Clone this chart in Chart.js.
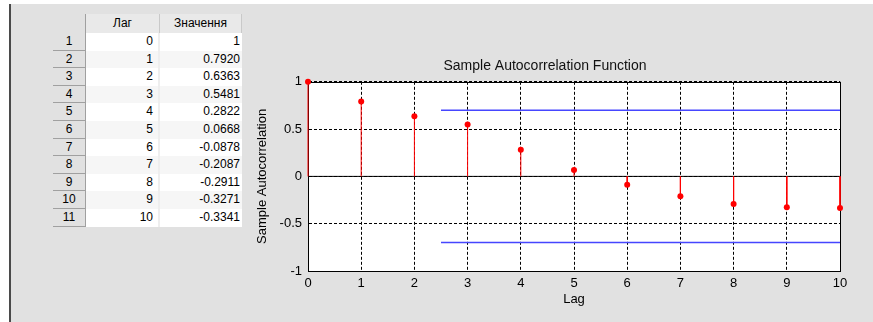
<!DOCTYPE html>
<html>
<head>
<meta charset="utf-8">
<script src="https://cdn.jsdelivr.net/npm/chart.js@4.4.1/dist/chart.umd.min.js"></script>
<style>
  html, body { margin: 0; padding: 0; }
  body {
    width: 873px; height: 322px; position: relative; overflow: hidden;
    background: #ffffff;
    font-family: "Liberation Sans", Arial, sans-serif;
  }
  #panel { position: absolute; left: 11px; top: 4px; right: 0; bottom: 0; background: #e1e1e1; }
  #edge { position: absolute; left: 9px; top: 4px; width: 2px; bottom: 0; background: #4a4a4a; }
  #acfTable { position: absolute; left: 53px; top: 14px; width: 189px; height: 214px; }
  .cell {
    position: absolute; box-sizing: border-box; font-size: 12px; color: #000;
    white-space: nowrap; overflow: hidden;
  }
  .head { background: #e9e9e9; border-right: 1px solid #c9c9c9; text-align: center; line-height: 19px; }
  .rowhead { background: #e1e1e1; border-right: 1px solid #a0a0a0; border-bottom: 1px solid #a0a0a0; text-align: center; }
  .data { text-align: right; border-right: 2px solid #eeeeee; }
  #chartBox { position: absolute; left: 250px; top: 50px; width: 610px; height: 262px; }
</style>
</head>
<body>
<div id="panel"></div>
<div id="edge"></div>
<div id="acfTable"></div>
<div id="chartBox"><canvas id="acfChart" width="610" height="262"></canvas></div>

<script>
// ACF values (MATLAB autocorr output)
const lags = [0, 1, 2, 3, 4, 5, 6, 7, 8, 9, 10];
const acfValues = [1, 0.7920, 0.6363, 0.5481, 0.2822, 0.0668, -0.0878, -0.2087, -0.2911, -0.3271, -0.3341];
const tableHeaders = ['Лаг', 'Значення'];

// confidence bounds (horizontal blue lines)
const boundLags = [2.5, 10];
const boundValue = 0.7;

const yTicks = [-1, -0.5, 0, 0.5, 1];

// ---- table on the left ----
function buildTable() {
  const box = document.getElementById('acfTable');
  const rowH = 17.6;
  const headH = 19;
  const cols = [{ x: 0, w: 33 }, { x: 33, w: 74 }, { x: 107, w: 82 }];
  let html = '';

  html += `<div class="cell" style="left:0;top:0;width:33px;height:${headH}px;border-right:1px solid #a0a0a0;background:#e1e1e1"></div>`;
  tableHeaders.forEach((h, i) => {
    const c = cols[i + 1];
    html += `<div class="cell head" style="left:${c.x}px;top:0;width:${c.w}px;height:${headH}px">${h}</div>`;
  });

  lags.forEach((lag, i) => {
    const top = headH + i * rowH;
    const bg = i % 2 === 1 ? '#f6f6f6' : '#ffffff';
    const val = acfValues[i] === 1 ? '1' : acfValues[i].toFixed(4);
    const lh = `height:${rowH}px;line-height:${rowH}px`;
    html += `<div class="cell rowhead" style="left:0;top:${top}px;width:33px;${lh}">${i + 1}</div>`;
    html += `<div class="cell data" style="left:${cols[1].x}px;top:${top}px;width:${cols[1].w}px;${lh};background:${bg};padding-right:5px">${lag}</div>`;
    html += `<div class="cell data" style="left:${cols[2].x}px;top:${top}px;width:${cols[2].w}px;${lh};background:${bg};padding-right:2px;border-right:none">${val}</div>`;
  });

  box.innerHTML = html;
}
buildTable();

// ---- stem plot ----
const markerPoints = lags.map((lag, i) => ({ x: lag, y: acfValues[i] }));

// each stem goes from 0 to the value, null breaks the line between stems
const stemPoints = [];
lags.forEach((lag, i) => {
  stemPoints.push({ x: lag, y: 0 }, { x: lag, y: acfValues[i] }, { x: lag, y: null });
});

const baseline = [{ x: lags[0], y: 0 }, { x: lags[lags.length - 1], y: 0 }];
const upperBound = boundLags.map(x => ({ x, y: boundValue }));
const lowerBound = boundLags.map(x => ({ x, y: -boundValue }));

// white plot background + closed axes box
const axesBox = {
  id: 'axesBox',
  beforeDraw(chart) {
    const { ctx, chartArea: a } = chart;
    ctx.save();
    ctx.fillStyle = '#ffffff';
    ctx.fillRect(a.left, a.top, a.right - a.left, a.bottom - a.top);
    ctx.restore();
  },
  beforeDatasetsDraw(chart) {
    const { ctx, chartArea: a } = chart;
    ctx.save();
    ctx.strokeStyle = '#000000';
    ctx.lineWidth = 1;
    ctx.strokeRect(Math.round(a.left) + 0.5, Math.round(a.top) + 0.5,
      Math.round(a.right - a.left), Math.round(a.bottom - a.top));
    ctx.restore();
  }
};

const tickFont = { family: '"Liberation Sans", Arial, sans-serif', size: 13 };

new Chart(document.getElementById('acfChart'), {
  type: 'scatter',
  data: {
    datasets: [
      {
        label: 'acf',
        data: markerPoints,
        showLine: false,
        pointRadius: 3,
        pointBorderWidth: 0,
        pointBackgroundColor: '#ff0000',
        clip: false,
        order: 0
      },
      {
        type: 'line',
        label: 'stems',
        data: stemPoints,
        borderColor: '#ff0000',
        borderWidth: 1,
        pointRadius: 0,
        spanGaps: false,
        clip: false,
        order: 1
      },
      {
        type: 'line',
        label: 'baseline',
        data: baseline,
        borderColor: '#000000',
        borderWidth: 1,
        pointRadius: 0,
        order: 2
      },
      {
        type: 'line',
        label: 'upper',
        data: upperBound,
        borderColor: '#4646ff',
        borderWidth: 1.5,
        pointRadius: 0,
        order: 3
      },
      {
        type: 'line',
        label: 'lower',
        data: lowerBound,
        borderColor: '#4646ff',
        borderWidth: 1.5,
        pointRadius: 0,
        order: 3
      }
    ]
  },
  options: {
    responsive: false,
    animation: false,
    layout: { padding: { top: 0, right: 20, bottom: 4, left: 0 } },
    plugins: {
      legend: { display: false },
      tooltip: { enabled: false },
      title: {
        display: true,
        text: 'Sample Autocorrelation Function',
        color: '#111111',
        font: { family: '"Liberation Sans", Arial, sans-serif', size: 14, weight: 'normal' },
        padding: { top: 8, bottom: 7 }
      }
    },
    scales: {
      x: {
        type: 'linear',
        min: lags[0],
        max: lags[lags.length - 1],
        afterFit: (s) => { s.height = 37; },
        ticks: { stepSize: 1, color: '#000000', font: tickFont, padding: 5, maxRotation: 0 },
        grid: { color: '#000000', lineWidth: 1, drawTicks: false },
        border: { display: true, color: '#000000', dash: [3, 2] },
        title: { display: true, text: 'Lag', color: '#000000', font: tickFont, padding: { top: 0, bottom: 1 } }
      },
      y: {
        min: yTicks[0],
        max: yTicks[yTicks.length - 1],
        afterFit: (s) => { s.width = 58; },
        afterBuildTicks: (s) => { s.ticks = yTicks.map(v => ({ value: v })); },
        ticks: { color: '#000000', font: tickFont, padding: 6, callback: (v) => String(v) },
        grid: { color: '#000000', lineWidth: 1, drawTicks: false },
        border: { display: true, color: '#000000', dash: [3, 2] },
        title: { display: true, text: 'Sample Autocorrelation', color: '#000000', font: tickFont, padding: { top: 5, bottom: 0 } }
      }
    }
  },
  plugins: [axesBox]
});
</script>
</body>
</html>
